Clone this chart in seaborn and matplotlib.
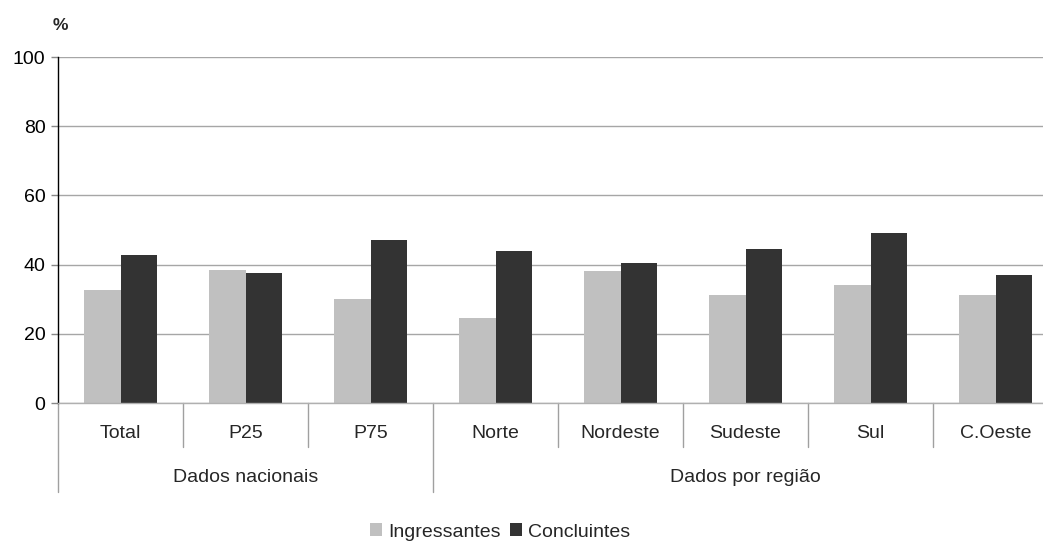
import pandas as pd
import seaborn as sns
import matplotlib.pyplot as plt
from matplotlib.patches import Patch
from matplotlib.transforms import blended_transform_factory

# Dados
categorias = ['Total', 'P25', 'P75', 'Norte', 'Nordeste', 'Sudeste', 'Sul', 'C.Oeste']
grupos = ['Dados nacionais', 'Dados por região']
tamanho_grupo = [3, 5]
ingressantes = [32.6, 38.4, 30.0, 24.5, 38.1, 31.1, 34.0, 31.1]
concluintes = [42.7, 37.5, 47.0, 43.9, 40.4, 44.4, 49.1, 36.9]
series = ['Ingressantes', 'Concluintes']
cores = ['#c0c0c0', '#333333']

df = pd.DataFrame({
    'categoria': categorias * 2,
    'serie': [series[0]] * len(categorias) + [series[1]] * len(categorias),
    'valor': ingressantes + concluintes,
})

sns.set_style('white')
plt.rcParams['font.family'] = ['Liberation Sans', 'DejaVu Sans']

W, H = 1043, 542
fs = 14
fig = plt.figure(figsize=(W / 100, H / 100), dpi=100)
# the original chart is cropped on the right, so the axes run past the edge
ax = fig.add_axes([58 / W, 139 / H, 1000 / W, 346 / H])

sns.barplot(data=df, x='categoria', y='valor', hue='serie', palette=cores,
            width=0.58, saturation=1, linewidth=0, legend=False, ax=ax)

ax.set_ylim(0, 100)
ax.set_xlim(-0.5, len(categorias) - 0.5)
ax.set_yticks(range(0, 101, 20))
ax.yaxis.grid(True, color='#a6a6a6', linewidth=1)
ax.set_axisbelow(True)
ax.set_xlabel('')
ax.set_ylabel('')
ax.set_xticks([])
ax.tick_params(axis='y', left=True, length=5, width=1, color='#888888',
               labelsize=fs, pad=4, labelcolor='black')

for lado in ['top', 'right']:
    ax.spines[lado].set_visible(False)
ax.spines['left'].set_color('black')
ax.spines['left'].set_linewidth(1)
ax.spines['bottom'].set_color('#b0b0b0')
ax.spines['bottom'].set_linewidth(1)

# category labels and separators below the axis
trans = blended_transform_factory(ax.transData, ax.transAxes)
ph = 346.0
for i, nome in enumerate(categorias):
    ax.text(i, -30 / ph, nome, transform=trans, ha='center', va='center',
            fontsize=fs)

limites_grupo = [-0.5]
for n in tamanho_grupo:
    limites_grupo.append(limites_grupo[-1] + n)

for i in range(len(categorias) + 1):
    b = i - 0.5
    comp = 89 if b in limites_grupo else 44
    ax.plot([b, b], [0, -comp / ph], transform=trans, color='#a0a0a0',
            linewidth=1, clip_on=False)

for g, nome in enumerate(grupos):
    centro = (limites_grupo[g] + limites_grupo[g + 1]) / 2
    ax.text(centro, -74 / ph, nome, transform=trans, ha='center',
            va='center', fontsize=fs)

fig.text(60 / W, 1 - 25 / H, '%', ha='center', va='center', fontsize=12.5,
         fontweight='bold')

handles = [Patch(facecolor=c, edgecolor='none') for c in cores]
fig.legend(handles, series, loc='center', bbox_to_anchor=(500 / W, 1 - 532 / H),
           ncol=2, frameon=False, fontsize=fs, handlelength=0.6,
           handleheight=0.6, handletextpad=0.3, columnspacing=0.5)

fig.savefig('out.png', dpi=100)
